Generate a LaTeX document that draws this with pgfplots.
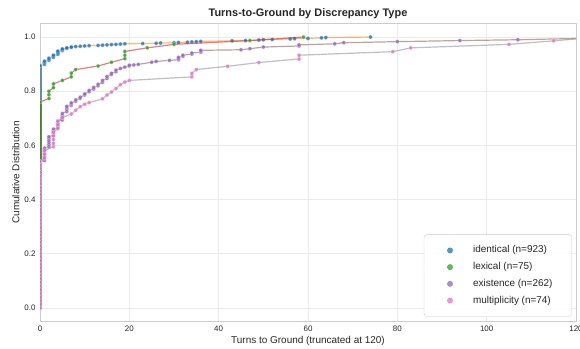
\documentclass[border=0pt]{standalone}
\usepackage{fontspec}
\setmainfont{Liberation Sans}
\usepackage{pgfplots}
\pgfplotsset{compat=1.18}
\definecolor{C0}{HTML}{1F77B4}
\definecolor{C1}{HTML}{FF7F0E}
\definecolor{C2}{HTML}{2CA02C}
\definecolor{C3}{HTML}{D62728}
\definecolor{C4}{HTML}{9467BD}
\definecolor{C5}{HTML}{8C564B}
\definecolor{C6}{HTML}{E377C2}
\definecolor{C7}{HTML}{7F7F7F}
\definecolor{gridc}{HTML}{EBEBEB}
\definecolor{spinec}{HTML}{CCCCCC}
\definecolor{txt}{HTML}{262626}
\begin{document}
\begin{tikzpicture}
\path[use as bounding box] (0,0) rectangle (580bp,349bp);
\begin{axis}[
  at={(40bp,27.5bp)}, anchor=south west,
  width=536bp, height=298bp, scale only axis,
  xmin=0, xmax=120, ymin=-0.05, ymax=1.05,
  xtick={0,20,40,60,80,100,120},
  ytick={0,0.2,0.4,0.6,0.8,1.0},
  yticklabel style={/pgf/number format/fixed, /pgf/number format/fixed zerofill, /pgf/number format/precision=1, xshift=-1bp},
  /pgf/number format/assume math mode=true,
  grid=major, major grid style={color=gridc, line width=0.8bp},
  axis line style={color=spinec, line width=1bp},
  tick style={draw=none},
  ticklabel style={font=\fontsize{8}{9}\selectfont, text=txt},
  xticklabel style={yshift=-1bp},
  clip marker paths=true,
  title={Turns-to-Ground by Discrepancy Type},
  title style={font=\bfseries\fontsize{11}{13}\selectfont, text=txt, yshift=-5bp},
  xlabel={Turns to Ground (truncated at 120)},
  ylabel={Cumulative Distribution},
  label style={font=\fontsize{10}{12}\selectfont, text=txt},
  xlabel style={yshift=2bp},
  ylabel style={yshift=-2bp},
  legend style={at={(0.992,0.016)}, anchor=south east, draw=spinec, rounded corners=3bp, fill=white, fill opacity=0.9, text opacity=1,
    font=\fontsize{10}{12}\selectfont, text=txt, inner xsep=16bp, inner ysep=8bp, row sep=0.7bp,
    nodes={text height=7.5bp, text depth=2.5bp, inner sep=3bp},
    /tikz/every odd column/.append style={column sep=12bp}},
  legend cell align=left,
]
% identical
\addplot[C0, line width=3.6bp, opacity=0.8, forget plot] coordinates {(0,0) (0,0.895)};
\addplot[C1, draw opacity=0.55, line width=1.2bp, mark=*, mark size=2bp, mark options={fill=C0, draw=white, line width=0.3bp, fill opacity=0.8}, forget plot] coordinates {
(0,0) (0,0.895) (1,0.899) (1,0.903) (1,0.907) (1,0.911) (2,0.914) (2,0.918) (2,0.922) (3,0.925) (3,0.929) (3,0.933) (4,0.936) (4,0.94) (4,0.944) (4,0.948) (5,0.95) (5,0.953) (5,0.956) (6,0.958) (6,0.96) (7,0.962) (7,0.963) (8,0.965) (9,0.966) (10,0.967) (11,0.968) (13,0.969) (14,0.970) (15,0.971) (16,0.972) (17,0.973) (18,0.974) (19,0.975) (23,0.976) (26,0.977) (27,0.978) (30,0.979) (31,0.98) (33,0.981) (34,0.982) (35,0.983) (36,0.984) (43,0.986) (46,0.987) (49,0.989) (50,0.99) (52,0.991) (56,0.993) (57,0.994) (60,0.995) (63,0.997) (64,0.998) (74,1.0)};
% lexical
\addplot[C2, line width=3.6bp, opacity=0.8, forget plot] coordinates {(0,0) (0,0.76)};
\addplot[C3, draw opacity=0.6, line width=1.2bp, mark=*, mark size=2bp, mark options={fill=C2, draw=white, line width=0.3bp, fill opacity=0.8}, forget plot] coordinates {
(0,0) (0,0.76) (2,0.773) (2,0.787) (2,0.8) (3,0.813) (3,0.827) (5,0.84) (7,0.853) (7,0.867) (8,0.88) (13,0.893) (16,0.907) (19,0.92) (19,0.933) (19,0.947) (24,0.96) (30,0.973) (47,0.987) (59,1.0)};
% existence
\addplot[C4, line width=3.6bp, opacity=0.8, forget plot] coordinates {(0,0) (0,0.54)};
\addplot[C5, draw opacity=0.55, line width=1.2bp, mark=*, mark size=2bp, mark options={fill=C4, draw=white, line width=0.3bp, fill opacity=0.8}, forget plot] coordinates {
(0,0) (0,0.54)
(1,0.544) (1,0.552) (1,0.56) (1,0.568) (1,0.576) (1,0.584) (1,0.59)
(2,0.595) (2,0.603) (2,0.611) (2,0.619) (2,0.627) (2,0.632)
(3,0.637) (3,0.645) (3,0.653) (3,0.66)
(4,0.665) (4,0.673) (4,0.681) (4,0.69)
(5,0.694) (5,0.702) (5,0.71) (5,0.718)
(6,0.725) (6,0.733) (6,0.74) (6,0.744)
(7,0.748) (7,0.753) (7,0.757)
(8,0.763) (8,0.768)
(9,0.774) (9,0.778)
(10,0.786) (10,0.79)
(11,0.798) (11,0.803)
(12,0.808) (12,0.814)
(13,0.82) (13,0.826)
(14,0.833) (14,0.84)
(15,0.847) (15,0.854)
(16,0.862) (16,0.866)
(17,0.872) (17,0.878)
(18,0.884) (19,0.889) (20,0.893) (20,0.896) (21,0.897) (22,0.899)
(25,0.907) (26,0.91) (29,0.914)
(31,0.916) (31,0.92) (31,0.925) (32,0.929) (32,0.933)
(34,0.937) (34,0.941) (36,0.944) (36,0.948) (36,0.951)
(45,0.953) (47,0.957) (50,0.963) (58,0.967) (58,0.971) (66,0.975) (68,0.979)
(80,0.983) (94,0.987) (107,0.99) (135,1.0)};
% multiplicity
\addplot[C7, draw opacity=0.5, line width=1.2bp, mark=*, mark size=2bp, mark options={fill=C6, draw=white, line width=0.3bp, fill opacity=0.8}, forget plot] coordinates {
(0,0) (0,0.0135) (0,0.027) (0,0.0405) (0,0.054) (0,0.0676) (0,0.081) (0,0.0946) (0,0.108) (0,0.1216) (0,0.135) (0,0.1486) (0,0.162) (0,0.1757) (0,0.189) (0,0.2027) (0,0.216) (0,0.2297) (0,0.243) (0,0.2568) (0,0.27) (0,0.2838) (0,0.297) (0,0.3108) (0,0.324) (0,0.3378) (0,0.351) (0,0.3649) (0,0.378) (0,0.3919) (0,0.405) (0,0.4189) (0,0.432) (0,0.4459) (0,0.459) (0,0.473) (0,0.486) (0,0.5) (0,0.514) (0,0.527) (0,0.541)
(1,0.554) (1,0.568) (1,0.581)
(3,0.595) (3,0.608) (3,0.622) (3,0.635) (3,0.649)
(4,0.662) (4,0.676) (4,0.689)
(5,0.703) (7,0.716) (8,0.73) (9,0.743) (10,0.752) (11,0.758) (14,0.772) (15,0.786) (16,0.797) (17,0.81) (18,0.824) (19,0.834) (20,0.84)
(34,0.853) (34,0.866) (35,0.88) (42,0.892) (49,0.906) (58,0.919) (58,0.933) (79,0.946) (83,0.96) (105,0.973) (115,0.986) (125,1.0)};
% legend
\addlegendimage{legend image code/.code={\path[draw=none, fill=none] (0bp,0bp) -- (18bp,0bp); \fill[C0, opacity=0.75] (10bp,0bp) circle (2.7bp);}}
\addlegendentry{identical (n=923)}
\addlegendimage{legend image code/.code={\path[draw=none, fill=none] (0bp,0bp) -- (18bp,0bp); \fill[C2, opacity=0.75] (10bp,0bp) circle (2.7bp);}}
\addlegendentry{lexical (n=75)}
\addlegendimage{legend image code/.code={\path[draw=none, fill=none] (0bp,0bp) -- (18bp,0bp); \fill[C4, opacity=0.75] (10bp,0bp) circle (2.7bp);}}
\addlegendentry{existence (n=262)}
\addlegendimage{legend image code/.code={\path[draw=none, fill=none] (0bp,0bp) -- (18bp,0bp); \fill[C6, opacity=0.75] (10bp,0bp) circle (2.7bp);}}
\addlegendentry{multiplicity (n=74)}
\end{axis}
\end{tikzpicture}
\end{document}
